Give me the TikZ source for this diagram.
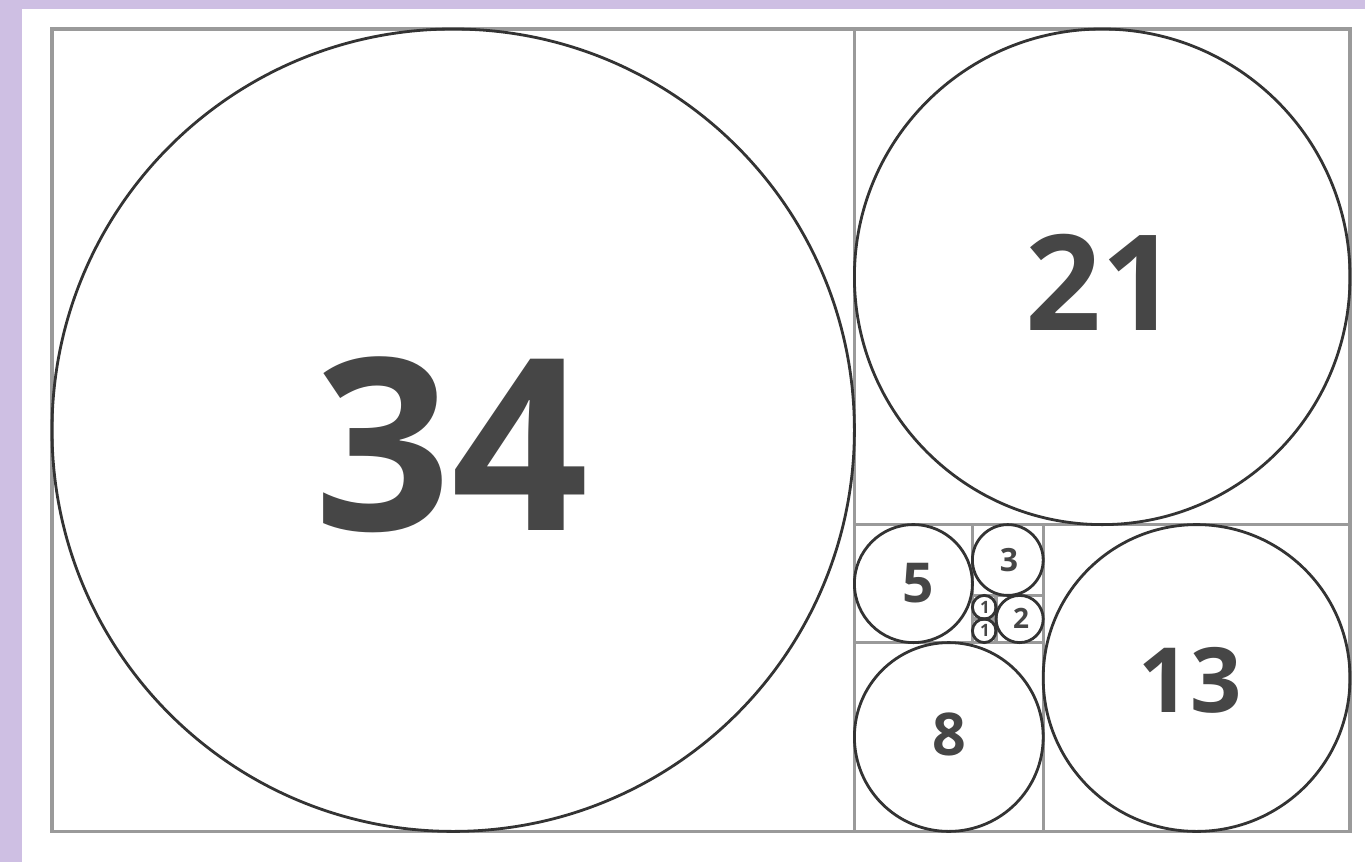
\documentclass[tikz,border=0pt]{standalone}
\usepackage{fontspec}
\setmainfont{Open Sans}
\definecolor{lav}{HTML}{CEBFE3}
\definecolor{gridgray}{HTML}{9A9A9A}
\definecolor{ringgray}{HTML}{333333}
\definecolor{numgray}{HTML}{464646}
\tikzset{
  gridline/.style={draw=gridgray, line width=3.2pt},
  ring/.style={draw=ringgray, line width=2.8pt},
  num/.style={inner sep=0pt, text=numgray, font=\bfseries\fontsize{#1}{#1}\selectfont},
}
\begin{document}
\begin{tikzpicture}[x=1pt,y=-1pt]
\fill[lav] (0,0) rectangle (1365,862);
\fill[white] (22,9) rectangle (1365,862);
\useasboundingbox (0,0) rectangle (1365,862);
\begin{scope}[xshift=52pt,yshift=-29pt,x=23.6pt,y=-23.6pt]
  % grid of squares
  \draw[gridline] (0,0) rectangle (55,34);
  \draw[gridline] (34,0) -- (34,34);
  \draw[gridline] (34,21) -- (55,21);
  \draw[gridline] (42,21) -- (42,34);
  \draw[gridline] (34,26) -- (42,26);
  \draw[gridline] (39,21) -- (39,26);
  \draw[gridline] (39,24) -- (42,24);
  \draw[gridline] (40,24) -- (40,26);
  \draw[gridline] (39,25) -- (40,25);
  % inscribed circles
  \draw[ring] (17,17) circle[radius=17];
  \draw[ring] (44.5,10.5) circle[radius=10.5];
  \draw[ring] (48.5,27.5) circle[radius=6.5];
  \draw[ring] (38,30) circle[radius=4];
  \draw[ring] (36.5,23.5) circle[radius=2.5];
  \draw[ring] (40.5,22.5) circle[radius=1.5];
  \draw[ring] (41,25) circle[radius=1];
  \draw[ring] (39.5,24.5) circle[radius=0.5];
  \draw[ring] (39.5,25.5) circle[radius=0.5];
\end{scope}
\node[num=240] (n34) at (451,445) {34};
\node[num=133] (n21) at (1101,282) {21};
\node[num=90] (n13) at (1190,680) {13};
\node[num=59] (n8) at (949,734) {8};
\node[num=55] (n5) at (918,583) {5};
\node[num=32] (n3) at (1009,560) {3};
\node[num=28] (n2) at (1021,618) {2};
\node[num=17] (n1a) at (985,607) {1};
\node[num=17] (n1b) at (985,630) {1};
\end{tikzpicture}
\end{document}
